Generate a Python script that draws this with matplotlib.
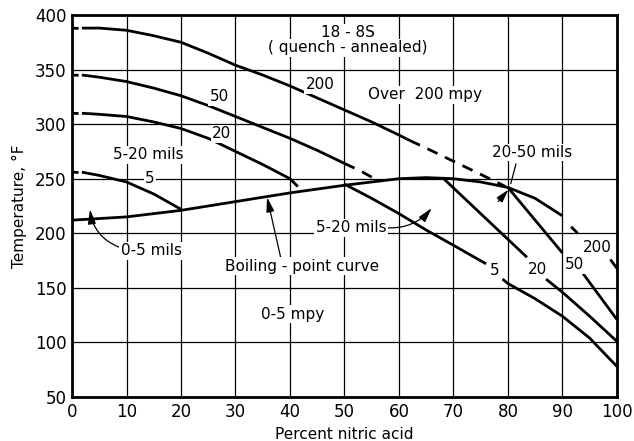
import matplotlib
matplotlib.use("Agg")
import matplotlib.pyplot as plt

# ---- data ----
bp_x = [0, 10, 20, 30, 40, 50, 60, 65, 70, 75, 80, 85, 90]
bp_t = [212, 215, 221, 229, 237, 244, 250, 251, 250, 247, 242, 232, 216]

l200_x = [1.8, 5, 10, 15, 20, 25, 30, 35, 40, 45, 50, 55, 60, 62]
l200_t = [388, 388, 386, 381, 375, 365, 354, 345, 335, 324, 313, 302, 290, 285]
l200d_x = [62, 65, 70, 75, 79.5]
l200d_t = [285, 278, 266, 254, 243]
l200r_dash_x = [91.6, 92.8]
l200r_dash_t = [206, 200]
l200r_x = [98.8, 100]
l200r_t = [176, 168]

l50_x = [1.8, 5, 10, 15, 20, 25, 30, 35, 40, 45, 50]
l50_t = [345, 343, 339, 333, 326, 317, 307, 297, 287, 276, 264]
l50d_x = [50, 53, 55.5]
l50d_t = [264, 257, 250]
l50r_x = [80, 85, 90]
l50r_t = [242, 212, 182]
l50r2_x = [93.8, 100]
l50r2_t = [163, 121]

l20_x = [1.8, 5, 10, 15, 20, 25, 30, 35, 40]
l20_t = [310, 309, 307, 302, 296, 287, 275, 263, 250]
l20d_x = [40, 42]
l20d_t = [250, 240]
l20r_x = [68, 75, 83.5]
l20r_t = [251, 218, 178]
l20r2_x = [87, 90, 95, 100]
l20r2_t = [158, 146, 124, 101]

l5_x = [1.8, 5, 10, 15, 20]
l5_t = [256, 253, 247, 236, 222]
l5r_x = [50, 55, 60, 65, 70, 76]
l5r_t = [245, 232, 218, 203, 189, 172]
l5r2_x = [79, 80, 85, 90, 95, 100]
l5r2_t = [158, 154, 140, 124, 104, 78]

stub_t = [388, 345, 310, 256]   # small dashes at x=0

x_ticks = list(range(0, 101, 10))
y_ticks = list(range(50, 401, 50))

# ---- figure ----
fig = plt.figure(figsize=(6.34, 4.41), dpi=100)
ax = fig.add_axes([0.1136, 0.0998, 0.8594, 0.8662])
ax.set_xlim(0, 100)
ax.set_ylim(50, 400)
ax.set_xticks(x_ticks)
ax.set_yticks(y_ticks)
ax.tick_params(length=0, labelsize=12, pad=4)
ax.grid(True, color="black", linewidth=0.9)
ax.set_axisbelow(True)
for s in ax.spines.values():
    s.set_linewidth(2.0)

lw = 2.0
kw = dict(color="black", linewidth=lw, solid_capstyle="butt", zorder=3)
kwd = dict(color="black", linewidth=lw, linestyle=(0, (4, 3)), zorder=3)

ax.plot(bp_x, bp_t, **kw)
ax.plot(l200_x, l200_t, **kw)
ax.plot(l200d_x, l200d_t, **kwd)
ax.plot(l200r_dash_x, l200r_dash_t, **kw)
ax.plot(l200r_x, l200r_t, **kw)
ax.plot(l50_x, l50_t, **kw)
ax.plot(l50d_x, l50d_t, **kwd)
ax.plot(l50r_x, l50r_t, **kw)
ax.plot(l50r2_x, l50r2_t, **kw)
ax.plot(l20_x, l20_t, **kw)
ax.plot(l20d_x, l20d_t, **kwd)
ax.plot(l20r_x, l20r_t, **kw)
ax.plot(l20r2_x, l20r2_t, **kw)
ax.plot(l5_x, l5_t, **kw)
ax.plot(l5r_x, l5r_t, **kw)
ax.plot(l5r2_x, l5r2_t, **kw)
for t in stub_t:
    ax.plot([0, 1.2], [t, t - 0.3], **kw)

bb = dict(facecolor="white", edgecolor="none", pad=1.0)
tk = dict(fontsize=11, ha="center", va="center", zorder=5)

ax.text(50.6, 384, "18 - 8S", bbox=bb, **tk)
ax.text(50.6, 370, "( quench - annealed)", bbox=bb, **tk)
ax.text(64.8, 327, "Over  200 mpy", bbox=bb, **tk)
ax.text(45.5, 336, "200", bbox=bb, **tk)
ax.text(27.0, 325, "50", bbox=bb, **tk)
ax.text(27.5, 291, "20", bbox=bb, **tk)
ax.text(14.3, 250, "5", bbox=bb, **tk)
ax.text(14.0, 272, "5-20 mils", bbox=bb, **tk)
ax.text(40.4, 126, "0-5 mpy", bbox=bb, **tk)
ax.text(77.6, 166, "5", bbox=bb, **tk)
ax.text(85.5, 167, "20", bbox=bb, **tk)
ax.text(92.3, 171, "50", bbox=bb, **tk)
ax.text(96.5, 187, "200", bbox=bb, **tk)
ax.text(84.4, 274, "20-50 mils", bbox=bb, **tk)

aprops = dict(arrowstyle="-|>,head_length=0.8,head_width=0.22", color="black",
              linewidth=0.9, shrinkA=0, shrinkB=0)

ax.annotate("0-5 mils", xy=(3.3, 222), xytext=(14.5, 184), bbox=bb,
            arrowprops=dict(connectionstyle="arc3,rad=-0.3", relpos=(0, 0.7), **aprops),
            **tk)
ax.annotate("Boiling - point curve", xy=(35.8, 233), xytext=(42.3, 170), bbox=bb,
            arrowprops=dict(connectionstyle="arc3,rad=0", relpos=(0.36, 1.0), **aprops),
            **tk)
ax.annotate("5-20 mils", xy=(66, 223), xytext=(51.2, 205), bbox=bb,
            arrowprops=dict(connectionstyle="arc3,rad=0.25", relpos=(1.0, 0.5), **aprops),
            **tk)
# 20-50 mils leader line and arrowhead
ax.annotate("", xy=(80.4, 243), xytext=(81.6, 266),
            arrowprops=dict(arrowstyle="-", color="black", linewidth=0.9))
ax.annotate("", xy=(80.1, 240), xytext=(78.2, 229),
            arrowprops=dict(**aprops))

ax.set_xlabel("Percent nitric acid", fontsize=11)
ax.set_ylabel("Temperature, °F", fontsize=11)
ax.xaxis.set_label_coords(0.5, -0.078)
ax.yaxis.set_label_coords(-0.083, 0.5)

fig.savefig("out.png", dpi=100)
